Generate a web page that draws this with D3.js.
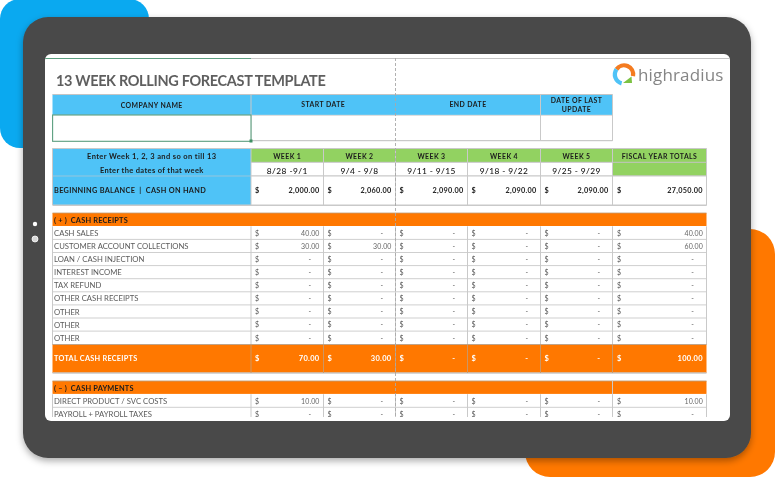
<!DOCTYPE html>
<html><head><meta charset="utf-8">
<script src="https://cdn.jsdelivr.net/npm/d3@7"></script>
<style>html,body{margin:0;padding:0;background:#fff;overflow:hidden}svg{display:block}text{font-family:Lato,"Open Sans",sans-serif}</style>
</head><body><svg id="c" width="775" height="478"></svg>
<script>
const title="13 WEEK ROLLING FORECAST TEMPLATE";
const infoHeaders=["COMPANY NAME","START DATE","END DATE"];
const lastUpdate=["DATE OF LAST","UPDATE"];
const weekIntro=["Enter Week 1, 2, 3 and so on till 13","Enter the dates of that week"];
const balanceLabel="BEGINNING BALANCE \u00a0|\u00a0 CASH ON HAND";
const weeks=["WEEK 1","WEEK 2","WEEK 3","WEEK 4","WEEK 5"];
const totalsLabel="FISCAL YEAR TOTALS";
const weekDates=["8/28 -9/1","9/4 - 9/8","9/11 - 9/15","9/18 - 9/22","9/25 - 9/29"];
const beginning=[2000,2060,2090,2090,2090,27050];
const receiptsTitle="( + ) \u00a0CASH RECEIPTS";
const receiptLabels=["CASH SALES","CUSTOMER ACCOUNT COLLECTIONS","LOAN / CASH INJECTION","INTEREST INCOME","TAX REFUND","OTHER CASH RECEIPTS","OTHER","OTHER","OTHER"];
const receiptValues=[[40,0,0,0,0,40],[30,30,0,0,0,60],[0,0,0,0,0,0],[0,0,0,0,0,0],[0,0,0,0,0,0],[0,0,0,0,0,0],[0,0,0,0,0,0],[0,0,0,0,0,0],[0,0,0,0,0,0]];
const totalLabel="TOTAL CASH RECEIPTS";
const totalValues=[70,30,0,0,0,100];
const paymentsTitle="( \u2013 ) \u00a0CASH PAYMENTS";
const paymentLabels=["DIRECT PRODUCT / SVC COSTS","PAYROLL + PAYROLL TAXES"];
const paymentValues=[[10,0,0,0,0,10],[0,0,0,0,0,0]];

const colNames=["label",...weeks,"totals","end"];
const x=d3.scaleOrdinal(colNames,[52.5,251,323.5,395.5,467.5,540.5,612.5,706.5]);
const right=c=>x(colNames[colNames.indexOf(c)+1]);
const rowKeys=["rcHead",...receiptLabels.map((d,i)=>"r"+i),"total","pHead",...paymentLabels.map((d,i)=>"p"+i),"after"];
const y=d3.scaleOrdinal(rowKeys,[213,226.3,239.4,252.5,265.6,278.7,291.8,304.9,318,331.1,344.5,381,394.2,407.3,420.4]);
const svg=d3.select("#c");
const BLUE="#4fc3f7",ORANGE="#ff7800",GREEN="#92d261",LINE="#c9c9c9",DARK="#4a4a4a";
const defs=svg.append("defs");
const sh=defs.append("filter").attr("id","sh").attr("x","-10%").attr("y","-10%").attr("width","120%").attr("height","125%");
sh.append("feDropShadow").attr("dx",0).attr("dy",3).attr("stdDeviation",3.5).attr("flood-color","#000").attr("flood-opacity",.33);
defs.append("clipPath").attr("id","scr").append("rect").attr("x",45).attr("y",54).attr("width",685).attr("height",363).attr("rx",6);
svg.style("filter","blur(0.3px)");

svg.append("rect").attr("x",0).attr("y",-1).attr("width",149).attr("height",149).attr("rx",20).attr("fill","#0aa9f0");
svg.append("rect").attr("x",525).attr("y",229).attr("width",250).attr("height",248).attr("rx",25).attr("fill",ORANGE);
svg.append("rect").attr("x",23).attr("y",17).attr("width",728).attr("height",441).attr("rx",25).attr("fill",DARK).attr("filter","url(#sh)");
svg.append("rect").attr("x",45).attr("y",54).attr("width",685).attr("height",367).attr("rx",6).attr("fill","#fff");
svg.selectAll("circle.dot").data([224,239]).join("circle").attr("cx",35).attr("cy",d=>d).attr("r",(d,i)=>i?3:2.2).attr("fill",(d,i)=>i?"#d8d8d8":"#fff").attr("stroke",(d,i)=>i?"#fff":"none").attr("stroke-width",.8);

const g=svg.append("g").attr("clip-path","url(#scr)");
function rect(a,b,c,d,f){return g.append("rect").attr("x",a).attr("y",b).attr("width",c-a).attr("height",d-b).attr("fill",f);}
function line(a,b,c,d,s,w){return g.append("line").attr("x1",a).attr("y1",b).attr("x2",c).attr("y2",d).attr("stroke",s||LINE).attr("stroke-width",w||1);}
function txt(s,a,b,o={}){return g.append("text").text(s).attr("x",a).attr("y",b).attr("text-anchor",o.anchor||"start").attr("font-size",o.size||7).attr("font-weight",o.weight||400).attr("fill",o.fill||"#1c1c1c").attr("letter-spacing",o.ls||0);}

line(45,58.5,730,58.5,"#c4c4c4",1);
line(45,58.5,251,58.5,"#5b9e7f",1.2);
txt(title,56,85.5,{size:14.5,weight:700,fill:"#5f5f5f",ls:-.34});

const X=colNames.map(c=>x(c));
rect(X[0],94.5,X[6],115,BLUE);
line(X[0],94.5,X[6],94.5,"#c4c4c4");
line(X[0],115.3,X[6],115.3,"#d6d6d6",1);
line(X[0],140.7,X[6],140.7,"#bdbdbd",1);
[X[1],X[5],X[6]].forEach(v=>line(v,94.5,v,141));
const bold={size:6.9,weight:700,ls:.42,anchor:"middle"};
txt(infoHeaders[0],(X[0]+X[1])/2,107.5,bold);
txt(infoHeaders[1],(X[1]+X[3])/2,107,bold);
txt(infoHeaders[2],(X[3]+X[5])/2,107,bold);
txt(lastUpdate[0],(X[5]+X[6])/2,102.5,bold);
txt(lastUpdate[1],(X[5]+X[6])/2,111.5,bold);
g.append("rect").attr("x",52.6).attr("y",115).attr("width",198.4).attr("height",26.3).attr("fill","#fff").attr("stroke","#5b9e7f").attr("stroke-width",1.1);
rect(249.5,139.5,252.5,142.5,"#3f8f63");

rect(X[0],148.5,X[1],205,BLUE);
rect(X[1],148.5,X[7],162,GREEN);
rect(X[6],162,X[7],176,GREEN);
line(X[0],148.5,X[7],148.5,"#c9c9c9");
line(X[1],162.3,X[7],162.3,"#c4c4c4");
line(X[1],175.8,X[7],175.8,"#c9c9c9",1.2);
line(X[0],176,X[1],176,"#a9c6d6",.8);
line(X[0],205.3,X[7],205.3,"#c9c9c9",1.6);
X.slice(1).forEach(v=>line(v,148.5,v,205.5));
line(X[0],148.5,X[0],205,"#c9c9c9");
txt(weekIntro[0],(X[0]+X[1])/2,159,{size:7.5,weight:700,ls:.38,anchor:"middle"});
txt(weekIntro[1],(X[0]+X[1])/2,172.5,{size:7.5,weight:700,ls:.34,anchor:"middle"});
txt(balanceLabel,54,193.3,{size:7.3,weight:700,ls:.32});
weeks.forEach((w,i)=>{
  const a=x(w),b=right(w);
  txt(w,(a+b)/2,159,{...bold});
  txt(weekDates[i],(a+b)/2,173.5,{size:8.4,weight:500,ls:.42,anchor:"middle",fill:"#111"});
});
txt(totalsLabel,(X[6]+X[7])/2,159,bold);
const fmt=d3.format(",.2f");
function money(c,v,b,o={}){
  const L=x(c),R=right(c),endX=c==="totals"?R-3.6:R-4;
  txt("$",L+(c==="totals"?4.5:4),b,{size:o.size||7.3,weight:o.weight||400,fill:o.fill||"#555"});
  if(v===0) txt("-",endX-(c==="totals"?9:8.5),b,{anchor:"end",size:o.size||7.3,weight:o.weight||400,fill:o.fill||"#555"});
  else txt(fmt(v),endX,b,{anchor:"end",size:o.size||7.3,weight:o.weight||400,fill:o.fill||"#666",ls:o.ls||.1});
}
const valueCols=[...weeks,"totals"];
valueCols.forEach((c,i)=>money(c,beginning[i],193.3,{weight:700,fill:"#1c1c1c",size:7.3,ls:.28}));

rect(X[0],y("rcHead"),X[7],y("r0")-.3,ORANGE);
line(X[0],y("rcHead"),X[7],y("rcHead"),"#c09a72",.8);
txt(receiptsTitle,54,y("r0")-3.6,{size:7.4,weight:700,ls:.18});
receiptLabels.forEach((l,i)=>{
  const k="r"+i,t=y(k),b=t+9.6;
  txt(l,54,b,{size:7.7,fill:"#5a5a5a",ls:.02});
  const n=y(rowKeys[rowKeys.indexOf(k)+1]);
  line(X[0],n,X[7],n,"#cfcfcf",1);
  valueCols.forEach((c,j)=>money(c,receiptValues[i][j],b-.2,{size:7}));
});
X.forEach(v=>line(v,y("r0"),v,y("total")));
const tTop=y("total"),tBot=373;
rect(X[0],tTop,X[7],tBot,ORANGE);
line(X[0],tTop,X[7],tTop,"#bfa48a",1);
line(X[0],tBot,X[7],tBot,"#c9c9c9",1.4);
X.slice(1,7).forEach(v=>line(v,tTop,v,tBot,"#c79a6e",.9));
txt(totalLabel,54,361.3,{size:7.3,weight:700,fill:"#fff",ls:.27});
valueCols.forEach((c,j)=>money(c,totalValues[j],361.3,{weight:700,fill:"#fff",size:7.5,ls:.3}));

const pT=y("pHead"),pB=y("p0");
rect(X[0],pT,X[7],pB-.3,ORANGE);
line(X[0],pT,X[7],pT,"#c09a72",.9);
line(X[6],pT,X[6],pB,"#c9c9c9",1);
txt(paymentsTitle,54,pB-3.6,{size:7.4,weight:700,ls:.18});
paymentLabels.forEach((l,i)=>{
  const k="p"+i,t=y(k),b=t+9.6;
  txt(l,54,b,{size:7.7,fill:"#5a5a5a",ls:.02});
  const n=y(rowKeys[rowKeys.indexOf(k)+1]);
  line(X[0],n,X[7],n,"#cfcfcf",1);
  valueCols.forEach((c,j)=>money(c,paymentValues[i][j],b-.2,{size:7}));
});
X.forEach(v=>line(v,pB,v,421));

line(395.5,58,395.5,421,"#a8a8a8",.9).attr("stroke-dasharray","3 2");

const logo=svg.append("g").attr("transform","translate(624,74.5)");
const arc=d3.arc();
const toR=d=>d*Math.PI/180;
logo.append("path").attr("d",arc({innerRadius:7,outerRadius:11.3,startAngle:toR(-55),endAngle:toR(100)})).attr("fill","#f47b20");
logo.append("path").attr("d",arc({innerRadius:7,outerRadius:11.3,startAngle:toR(195),endAngle:toR(305)})).attr("fill","#4fc3f7");
logo.append("path").attr("d",d3.line()([[-1,8.5],[7.5,2],[8,8.5]])).attr("fill","#7cc242");
logo.append("text").text("highradius").attr("x",14).attr("y",6.5).attr("font-size",17).attr("fill","#858585").attr("letter-spacing",.15).style("font-family","'Open Sans',sans-serif").attr("font-weight",400);
</script></body></html>
